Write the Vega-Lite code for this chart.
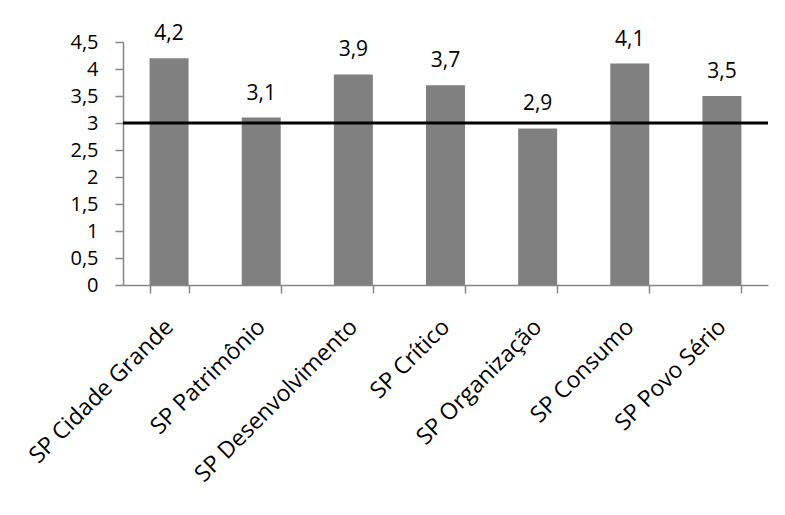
{
  "$schema": "https://vega.github.io/schema/vega-lite/v6.json",
  "autosize": "none",
  "width": 645,
  "height": 243,
  "padding": {"left": 123, "top": 42, "right": 17, "bottom": 230},
  "background": "white",
  "config": {
    "view": {"stroke": null},
    "font": "Open Sans",
    "locale": {"number": {"decimal": ",", "thousands": ".", "grouping": [3], "currency": ["R$", ""]}}
  },
  "data": {
    "values": [
      {"categoria": "SP Cidade Grande", "valor": 4.2},
      {"categoria": "SP Patrimônio", "valor": 3.1},
      {"categoria": "SP Desenvolvimento", "valor": 3.9},
      {"categoria": "SP Crítico", "valor": 3.7},
      {"categoria": "SP Organização", "valor": 2.9},
      {"categoria": "SP Consumo", "valor": 4.1},
      {"categoria": "SP Povo Sério", "valor": 3.5}
    ]
  },
  "encoding": {
    "x": {
      "field": "categoria",
      "type": "nominal",
      "sort": null,
      "scale": {"paddingInner": 0.577, "paddingOuter": 0.2885},
      "axis": {
        "title": null,
        "tickBand": "extent",
        "domainColor": "#868686",
        "domainWidth": 1.5,
        "tickColor": "#868686",
        "tickWidth": 1.5,
        "tickSize": 8,
        "labelAngle": -45,
        "labelAlign": "right",
        "labelBaseline": "middle",
        "labelPadding": 30,
        "labelFontSize": 23,
        "labelLimit": 0,
        "labelOverlap": false,
        "labelColor": "black",
        "labelFont": "Open Sans"
      }
    },
    "y": {
      "field": "valor",
      "type": "quantitative",
      "scale": {"domain": [0, 4.5], "nice": false},
      "axis": {
        "title": null,
        "values": [0, 0.5, 1, 1.5, 2, 2.5, 3, 3.5, 4, 4.5],
        "format": "~g",
        "grid": false,
        "domainColor": "#868686",
        "domainWidth": 1.5,
        "tickColor": "#868686",
        "tickWidth": 1.5,
        "tickSize": 8,
        "labelPadding": 17,
        "labelFontSize": 20,
        "labelColor": "black",
        "labelFont": "Open Sans"
      }
    }
  },
  "layer": [
    {"mark": {"type": "bar", "color": "#808080"}},
    {
      "mark": {"type": "text", "baseline": "bottom", "dy": -14, "fontSize": 21, "font": "Open Sans", "color": "black"},
      "encoding": {"text": {"field": "valor", "type": "quantitative", "format": ".1f"}}
    },
    {
      "data": {"values": [{"referencia": 3}]},
      "mark": {"type": "rule", "color": "black", "strokeWidth": 3},
      "encoding": {"y": {"field": "referencia", "type": "quantitative"}, "x": null}
    }
  ]
}
